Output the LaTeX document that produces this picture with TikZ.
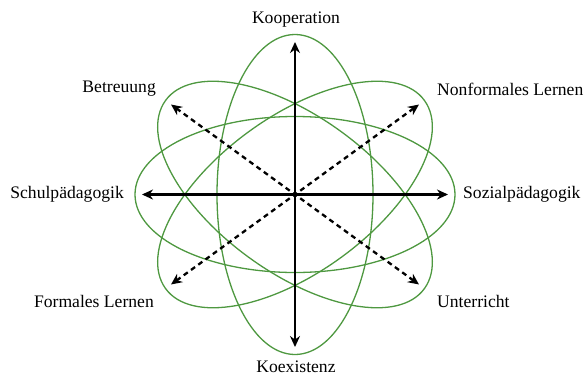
\documentclass[tikz,border=0pt]{standalone}
\usepackage{fontspec}
\setmainfont{Liberation Serif}
\definecolor{orbitgreen}{RGB}{78,152,64}
\usetikzlibrary{arrows.meta}

\begin{document}
\begin{tikzpicture}[
  x=1pt, y=1pt,
  orbit/.style={draw=orbitgreen, line width=1.3pt},
  axis/.style={line width=2.6pt, {Stealth[length=11pt,width=10pt]}-{Stealth[length=11pt,width=10pt]}},
  diag/.style={line width=2.3pt, dash pattern=on 5pt off 4pt, {Stealth[length=11pt,width=10pt]}-{Stealth[length=11pt,width=10pt]}},
  lbl/.style={font=\fontsize{17.6}{20}\selectfont, inner sep=0pt}
]
\useasboundingbox (-295,-181.5) rectangle (289,194.5);

% the four ellipses
\draw[orbit] (0,0) ellipse [x radius=160, y radius=78];
\draw[orbit] (0,0) ellipse [x radius=78, y radius=160];
\draw[orbit, rotate=36] (0,0) ellipse [x radius=160, y radius=78];
\draw[orbit, rotate=-36] (0,0) ellipse [x radius=160, y radius=78];

\coordinate (n) at (0,152.5);
\coordinate (s) at (0,-152.5);
\coordinate (w) at (-153,0);
\coordinate (e) at (153,0);
\coordinate (ne) at (124,90);
\coordinate (sw) at (-124,-90);
\coordinate (nw) at (-124,90);
\coordinate (se) at (124,-90);

\draw[axis] (s) -- (n);
\draw[axis] (w) -- (e);
\draw[diag] (sw) -- (ne);
\draw[diag] (se) -- (nw);

\node[lbl] (koop) at (1,174.5) {Kooperation};
\node[lbl] (koex) at (1,-172.5) {Koexistenz};
\node[lbl, anchor=east] (betr) at (-139,105.5) {Betreuung};
\node[lbl, anchor=west] (nonf) at (142,105.5) {Nonformales Lernen};
\node[lbl, anchor=east] (schul) at (-171,0) {Schulpädagogik};
\node[lbl, anchor=west] (sozial) at (168,0) {Sozialpädagogik};
\node[lbl, anchor=east] (form) at (-141,-106.5) {Formales Lernen};
\node[lbl, anchor=west] (unt) at (142,-106.5) {Unterricht};
\end{tikzpicture}
\end{document}
